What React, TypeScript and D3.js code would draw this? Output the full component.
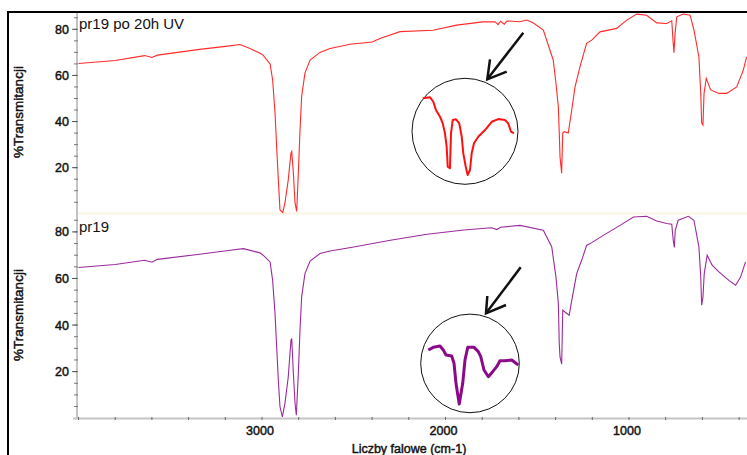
import React from "react";
import * as d3 from "d3";

// ---------- data ----------
const redWn = [4000,3800,3640,3600,3570,3340,3200,3120,3065,3011,2994,2956,2942,2929,2920,2911,2902,2887,2875,2857,2842,2838,2829,2820,2811,2802,2793,2784,2766,2738,2684,2629,2520,2400,2357,2248,2068,1939,1796,1730,1714,1700,1680,1665,1594,1557,1523,1467,1413,1398,1385,1380,1376,1370,1367,1361,1353,1331,1312,1294,1267,1231,1203,1158,1067,1012,958,904,849,795,767,759,755,749,740,704,667,646,619,609,604,597,591,579,555,510,468,413,377,359];
const redT = [65.2,66.5,68.6,67.8,68.8,71.3,72.6,73.4,71.7,69.6,68.8,65,58,43.7,29,14.7,1.7,0.6,4.7,14.7,26.4,27,17.7,4.7,1,17.7,36,50.8,61,66.7,70,71.7,73.5,74.5,76,79,79.6,81.8,83.2,83.3,82,83.5,82.2,83.6,83.3,84,82.8,79.7,66.7,56.6,46.4,35,24.8,20,17.6,35,35.6,35,45,55,63.8,73.9,75.3,78.9,80.4,84,86.6,86.1,82.8,82.5,83.7,73.9,69.8,78,85.4,86.6,86.1,79.7,68,52.2,39.3,38.5,52.3,58.7,53.7,52.2,52.2,55,62.3,68];

const purpleWn = [4000,3800,3640,3600,3570,3340,3174,3101,3011,2994,2956,2942,2929,2920,2911,2902,2889,2875,2857,2842,2838,2829,2820,2813,2802,2793,2784,2766,2738,2684,2629,2500,2300,2100,1900,1750,1720,1700,1594,1467,1421,1398,1385,1380,1376,1367,1361,1349,1326,1312,1285,1258,1231,1203,1140,1049,976,904,849,795,767,759,753,748,732,677,646,619,609,604,597,590,574,547,510,456,419,392,365];
const purpleT = [64.7,66,67.8,67,68.2,70.4,72.1,72.8,71,70,67.1,59.2,44.9,30.6,16.3,4.9,0.6,6.4,17.7,33.5,34.2,19.2,6.4,1.3,19.3,37.8,52,62.1,67.5,70.7,71.8,73.5,76.4,79,80.8,81.8,81,82,82.8,80.7,73.5,60.6,49.2,32,26.3,23.2,46.4,45.6,44.2,50.6,62.1,67.8,74.2,75.4,78.5,82.8,86.4,86.7,84.7,83.6,83.3,76.4,73.3,80.7,85,86.7,85,73.5,60.6,48.5,52,62.1,70,65.7,62.8,59.2,57.1,60.6,67.1];

// inset (magnified) curves, circle-local units 0..100
const insetRedU = [10.1,17.0,20.1,22.6,26.4,29.0,31.1,32.7,33.7,35.8,36.8,38.4,41.5,44.6,46.9,48.4,50.7,52.5,54.7,56.3,58.5,62.5,68.9,75.2,81.4,87.7,90.8,93.4,96.2];
const insetRedV = [81.1,82.1,77.9,70.1,63.8,57.5,48.1,35.5,16.6,15.1,48.1,60.7,61.3,57.5,44.9,29.2,16.6,8.8,13.5,29.2,38.7,44.9,51.2,59.0,61.5,60.7,57.5,49.6,48.1];
const insetPurU = [7.7,12.8,19.6,22.9,25.7,31.4,33.8,35.8,37.1,39.1,40.9,42.6,44.9,47.7,54.1,58.4,60.9,64.2,68.6,73.0,77.1,80.4,85.5,92.3,99.0];
const insetPurV = [63.6,66.3,67.6,63.6,58.5,57.5,50.1,29.8,21.3,8.8,19.7,29.8,53.4,66.3,66.3,61.9,56.8,43.3,36.5,41.6,46.7,52.7,52.7,53.4,48.4];

const xTickMajor = [3000, 2000, 1000];
const yTickMajor = [20, 40, 60, 80];
const panelLabels = ["pr19 po 20h UV", "pr19"];
const yTitle = "%Transmitancji";
const xTitle = "Liczby falowe (cm-1)";

const W = 747, H = 455;
const FONT = "Liberation Sans, Arial, sans-serif";
const heavy = { stroke: "#111", strokeWidth: 0.45 };

export default function App() {
  const x = d3.scaleLinear().domain([3000, 1000]).range([262, 629]);
  const yTop = d3.scaleLinear().domain([0, 80]).range([213.8, 29.3]);
  const yBot = d3.scaleLinear().domain([0, 80]).range([418.2, 231.9]);
  const axisX = 77;
  const plotRight = W;

  const lineTop = d3.line<number>().x((_, i) => x(redWn[i])).y((v) => yTop(v));
  const lineBot = d3.line<number>().x((_, i) => x(purpleWn[i])).y((v) => yBot(v));

  const minorX = d3.range(200, 4001, 200);
  const minorY = d3.range(5, 86, 5);

  const insets = [
    { cx: 465, cy: 131.3, r: 53, u: insetRedU, v: insetRedV, color: "#ff1010", sw: 2,
      arrow: [[523.3, 32.7], [487.3, 79.3]], head: [[490, 59.3], [506.7, 71.7]] },
    { cx: 470, cy: 363.4, r: 49.3, u: insetPurU, v: insetPurV, color: "#8a0a8a", sw: 3,
      arrow: [[520.7, 267.3], [486, 313.3]], head: [[487.3, 296], [506, 305]] },
  ];

  const panels = [
    { y: yTop, label: panelLabels[0], labelY: 28.5, top: 12, bottom: 214 },
    { y: yBot, label: panelLabels[1], labelY: 231.7, top: 214, bottom: 418 },
  ];

  return (
    <svg width={W} height={H} style={{ position: "absolute", left: 0, top: 0, background: "#fff" }}
      fontFamily={FONT}>
      <defs>
        <clipPath id="clipTop"><rect x={axisX} y={12} width={plotRight - axisX} height={202} /></clipPath>
        <clipPath id="clipBot"><rect x={axisX} y={214} width={plotRight - axisX} height={205} /></clipPath>
      </defs>
      {/* frame */}
      <line x1={8} x2={W} y1={12} y2={12} stroke="#000" strokeWidth={2} />
      <line x1={8} x2={8} y1={11} y2={H} stroke="#000" strokeWidth={2} />
      {/* separator */}
      <line x1={axisX} x2={W} y1={213.5} y2={213.5} stroke="#fbf3e4" strokeWidth={2} />

      {/* y axes */}
      <line x1={axisX} x2={axisX} y1={13} y2={419} stroke="#c4c4c4" strokeWidth={2} />
      {panels.map((p, pi) => (
        <g key={pi}>
          {minorY.map((t) => (
            <line key={t} x1={axisX - 3} x2={axisX + 1} y1={p.y(t)} y2={p.y(t)} stroke="#777" strokeWidth={1} />
          ))}
          {yTickMajor.map((t) => (
            <g key={t}>
              <line x1={axisX - 5} x2={axisX} y1={p.y(t)} y2={p.y(t)} stroke="#555" strokeWidth={1} />
              <text x={69} y={p.y(t) + 4.5} textAnchor="end" fontSize={12.5} fill="#111" {...heavy}>{t}</text>
            </g>
          ))}
          <text x={79} y={p.labelY} fontSize={15} fill="#111">{p.label}</text>
          <text transform={`translate(23,${(p.top + p.bottom) / 2 - 1}) rotate(-90)`} textAnchor="middle"
            fontSize={13.5} fill="#111" {...heavy}>{yTitle}</text>
        </g>
      ))}

      {/* x axis */}
      <line x1={axisX - 4} x2={W} y1={418.5} y2={418.5} stroke="#c4c4c4" strokeWidth={2} />
      {minorX.filter((t) => x(t) >= axisX && x(t) <= W).map((t) => (
        <line key={t} x1={x(t)} x2={x(t)} y1={417} y2={420} stroke="#666" strokeWidth={1} />
      ))}
      {xTickMajor.map((t) => (
        <text key={t} x={x(t) - 2} y={435} textAnchor="middle" fontSize={12.5} fill="#111" {...heavy}>{t}</text>
      ))}
      <text x={409} y={453} textAnchor="middle" fontSize={12.5} fill="#111" {...heavy}>{xTitle}</text>

      {/* spectra */}
      <path d={lineTop(redT) ?? ""} fill="none" stroke="#ff2a2a" strokeWidth={1.1} clipPath="url(#clipTop)" />
      <path d={lineBot(purpleT) ?? ""} fill="none" stroke="#9c2a9c" strokeWidth={1.1} clipPath="url(#clipBot)" />

      {/* insets */}
      {insets.map((ins, k) => {
        const su = d3.scaleLinear().domain([0, 100]).range([ins.cx - ins.r, ins.cx + ins.r]);
        const sv = d3.scaleLinear().domain([0, 100]).range([ins.cy + ins.r, ins.cy - ins.r]);
        const ln = d3.line<number>().x((u) => su(u)).y((_, i) => sv(ins.v[i]));
        return (
          <g key={k}>
            <circle cx={ins.cx} cy={ins.cy} r={ins.r} fill="#fff" stroke="#111" strokeWidth={1} />
            <path d={ln(ins.u) ?? ""} fill="none" stroke={ins.color} strokeWidth={ins.sw} strokeLinejoin="round" />
            <line x1={ins.arrow[0][0]} y1={ins.arrow[0][1]} x2={ins.arrow[1][0]} y2={ins.arrow[1][1]}
              stroke="#111" strokeWidth={2.5} />
            <polyline points={`${ins.head[0][0]},${ins.head[0][1]} ${ins.arrow[1][0]},${ins.arrow[1][1]} ${ins.head[1][0]},${ins.head[1][1]}`}
              fill="none" stroke="#111" strokeWidth={2.5} />
          </g>
        );
      })}
    </svg>
  );
}
